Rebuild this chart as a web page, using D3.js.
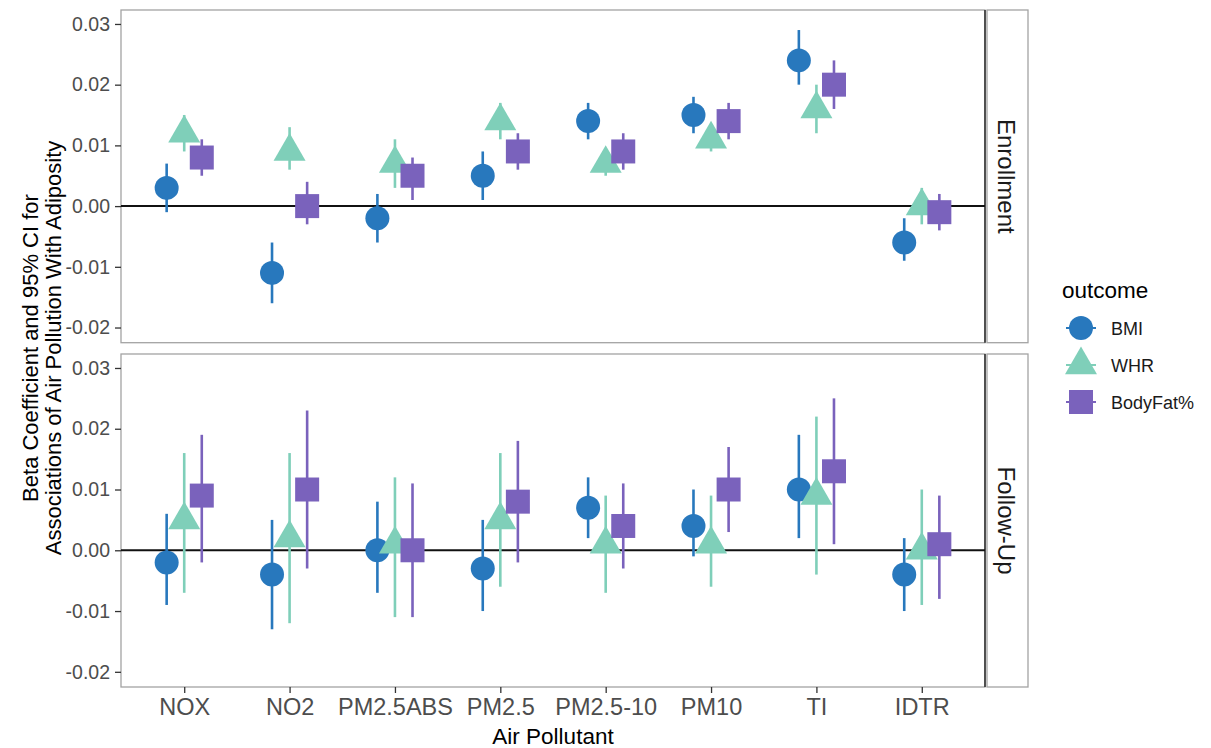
<!DOCTYPE html>
<html><head><meta charset="utf-8">
<script src="https://cdn.jsdelivr.net/npm/d3@7"></script>
<style>body{margin:0;background:#fff}svg{display:block;font-family:"Liberation Sans",Arial,sans-serif}</style>
</head><body>
<svg id="c" width="1211" height="748"></svg>
<script>
const pollutants = ["NOX","NO2","PM2.5ABS","PM2.5","PM2.5-10","PM10","TI","IDTR"];
const outcomes = ["BMI","WHR","BodyFat%"];
const panels = ["Enrollment","Follow-Up"];
const yTicks = [-0.02,-0.01,0.00,0.01,0.02,0.03];
const yTickLabels = ["-0.02","-0.01","0.00","0.01","0.02","0.03"];

// Enrollment
const enrollBMI     = [0.003,-0.011,-0.002,0.005,0.014,0.015,0.024,-0.006];
const enrollBMILow  = [-0.001,-0.016,-0.006,0.001,0.011,0.012,0.020,-0.009];
const enrollBMIHigh = [0.007,-0.006,0.002,0.009,0.017,0.018,0.029,-0.002];
const enrollWHR     = [0.012,0.009,0.007,0.014,0.007,0.011,0.016,0.000];
const enrollWHRLow  = [0.009,0.006,0.003,0.011,0.005,0.009,0.012,-0.003];
const enrollWHRHigh = [0.015,0.013,0.011,0.017,0.009,0.013,0.020,0.003];
const enrollFat     = [0.008,0.000,0.005,0.009,0.009,0.014,0.020,-0.001];
const enrollFatLow  = [0.005,-0.003,0.001,0.006,0.006,0.011,0.016,-0.004];
const enrollFatHigh = [0.011,0.004,0.008,0.012,0.012,0.017,0.024,0.002];
// Follow-Up
const followBMI     = [-0.002,-0.004,0.000,-0.003,0.007,0.004,0.010,-0.004];
const followBMILow  = [-0.009,-0.013,-0.007,-0.010,0.002,-0.001,0.002,-0.010];
const followBMIHigh = [0.006,0.005,0.008,0.005,0.012,0.010,0.019,0.002];
const followWHR     = [0.005,0.002,0.001,0.005,0.001,0.001,0.009,0.000];
const followWHRLow  = [-0.007,-0.012,-0.011,-0.006,-0.007,-0.006,-0.004,-0.009];
const followWHRHigh = [0.016,0.016,0.012,0.016,0.009,0.009,0.022,0.010];
const followFat     = [0.009,0.010,0.000,0.008,0.004,0.010,0.013,0.001];
const followFatLow  = [-0.002,-0.003,-0.011,-0.002,-0.003,0.003,0.001,-0.008];
const followFatHigh = [0.019,0.023,0.011,0.018,0.011,0.017,0.025,0.009];

const colors = {"BMI":"#2878bd","WHR":"#7fcfb9","BodyFat%":"#7a62bc"};
const symbols = {"BMI":[d3.symbolCircle,452],"WHR":[d3.symbolTriangle,443],"BodyFat%":[d3.symbolSquare,576]};

const seriesData = {
  "Enrollment": {
    "BMI":[enrollBMI,enrollBMILow,enrollBMIHigh],
    "WHR":[enrollWHR,enrollWHRLow,enrollWHRHigh],
    "BodyFat%":[enrollFat,enrollFatLow,enrollFatHigh]},
  "Follow-Up": {
    "BMI":[followBMI,followBMILow,followBMIHigh],
    "WHR":[followWHR,followWHRLow,followWHRHigh],
    "BodyFat%":[followFat,followFatLow,followFatHigh]}
};

const svg = d3.select("#c");
const L = 121, R = 985;
const panelBox = {"Enrollment":[10,342.7],"Follow-Up":[354,687]};
const x = d3.scalePoint(pollutants,[L,R]).padding(0.6);
const dodge = d3.scaleBand(outcomes,[-x.step()*0.25, x.step()*0.25]);
const domain = [-0.0225,0.0323];

panels.forEach((p,pi)=>{
  const [top,bot] = panelBox[p];
  const y = d3.scaleLinear(domain,[bot,top]);
  const g = svg.append("g");
  g.append("rect").attr("x",L).attr("y",top).attr("width",R-L).attr("height",bot-top)
    .attr("fill","#fff").attr("stroke","#a3a3a3").attr("stroke-width",1.3);
  g.append("line").attr("x1",R).attr("x2",R).attr("y1",top).attr("y2",bot)
    .attr("stroke","#333").attr("stroke-width",1.6);
  g.append("rect").attr("x",R+2).attr("y",top).attr("width",41).attr("height",bot-top)
    .attr("fill","#fff").attr("stroke","#a3a3a3").attr("stroke-width",1.3);
  const sc = (top+bot)/2;
  g.append("text").attr("transform",`translate(${R+13},${sc}) rotate(90)`)
    .attr("text-anchor","middle").attr("font-size",24).attr("fill","#1a1a1a").text(p);
  const ya = g.append("g").attr("transform",`translate(${L},0)`)
    .call(d3.axisLeft(y).tickValues(yTicks).tickFormat((d,i)=>yTickLabels[i]).tickSize(6).tickPadding(5));
  ya.select(".domain").remove();
  ya.selectAll(".tick line").attr("stroke","#333").attr("stroke-width",1.3);
  ya.selectAll(".tick text").attr("font-size",19.5).attr("fill","#4d4d4d")
    .attr("font-family","Liberation Sans, Arial, sans-serif");
  g.append("line").attr("x1",L).attr("x2",R).attr("y1",y(0)).attr("y2",y(0))
    .attr("stroke","#111").attr("stroke-width",2);
  outcomes.forEach(o=>{
    const [est,lo,hi] = seriesData[p][o];
    const sg = g.append("g");
    pollutants.forEach((c,i)=>{
      const cx = x(c)+dodge(o)+dodge.bandwidth()/2;
      sg.append("line").attr("x1",cx).attr("x2",cx).attr("y1",y(lo[i])).attr("y2",y(hi[i]))
        .attr("stroke",colors[o]).attr("stroke-width",2.6);
      sg.append("path").attr("d",d3.symbol(symbols[o][0],symbols[o][1])())
        .attr("transform",`translate(${cx},${y(est[i])})`).attr("fill",colors[o]);
    });
  });
  if(pi===1){
    const xa = g.append("g").attr("transform",`translate(0,${bot})`)
      .call(d3.axisBottom(x).tickSize(6).tickPadding(5));
    xa.select(".domain").remove();
    xa.selectAll(".tick line").attr("stroke","#333").attr("stroke-width",1.3);
    xa.selectAll(".tick text").attr("font-size",23.5).attr("fill","#4d4d4d")
      .attr("font-family","Liberation Sans, Arial, sans-serif");
  }
});

svg.append("text").attr("x",(L+R)/2).attr("y",744).attr("text-anchor","middle")
  .attr("font-size",22.5).attr("fill","#000").text("Air Pollutant");
const yt = svg.append("text").attr("transform",`translate(0,348) rotate(-90)`)
  .attr("text-anchor","middle").attr("font-size",22).attr("fill","#000");
yt.append("tspan").attr("x",0).attr("y",38).text("Beta Coefficient and 95% CI for");
yt.append("tspan").attr("x",0).attr("y",61).text("Associations of Air Pollution With Adiposity");

const lg = svg.append("g");
lg.append("text").attr("x",1062).attr("y",298).attr("font-size",22.5).attr("fill","#000").text("outcome");
outcomes.forEach((o,i)=>{
  const cy = 328 + i*37, cx = 1081;
  lg.append("line").attr("x1",cx-15).attr("x2",cx+15).attr("y1",cy).attr("y2",cy)
    .attr("stroke",colors[o]).attr("stroke-width",2);
  lg.append("path").attr("d",d3.symbol(symbols[o][0],symbols[o][1])())
    .attr("transform",`translate(${cx},${cy})`).attr("fill",colors[o]);
  lg.append("text").attr("x",1111).attr("y",cy+6.5).attr("font-size",18).attr("fill","#1a1a1a").text(o);
});
</script>
</body></html>
